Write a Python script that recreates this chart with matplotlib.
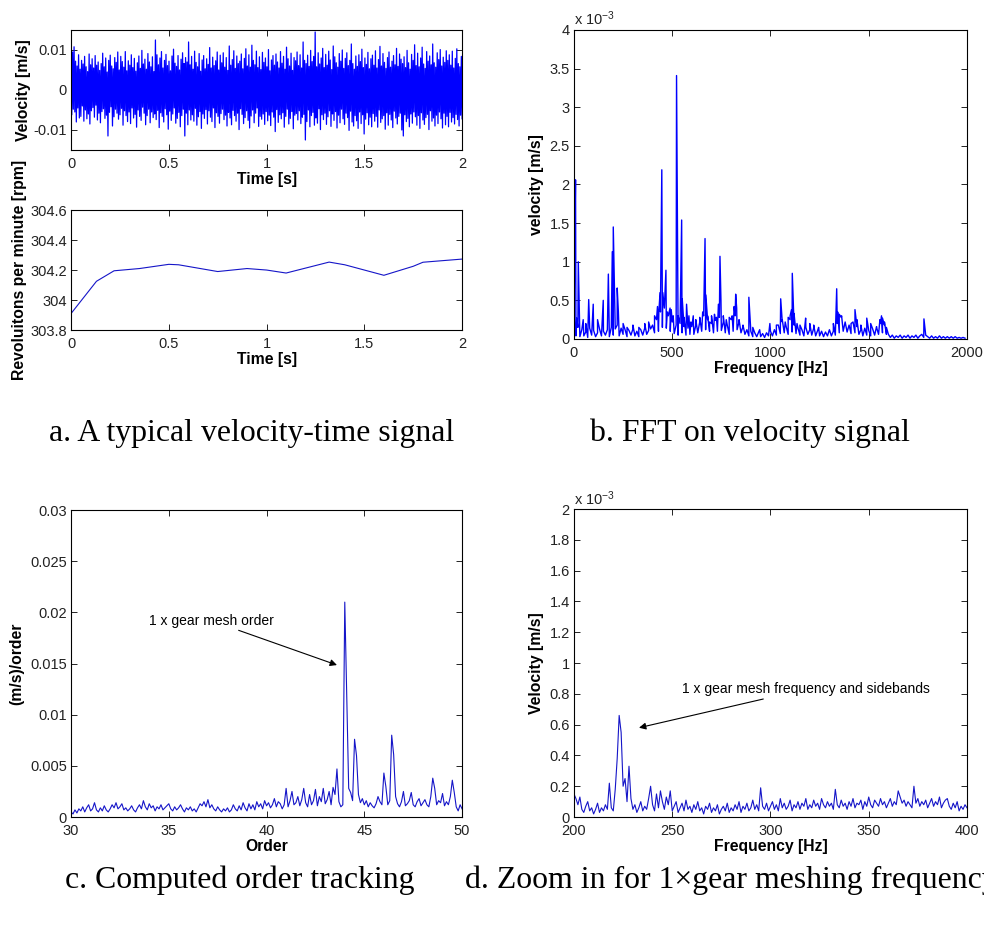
import numpy as np
import matplotlib
matplotlib.use("Agg")
import matplotlib.pyplot as plt

plt.rcParams['font.family'] = ['Liberation Sans', 'DejaVu Sans']
plt.rcParams['mathtext.default'] = 'regular'

#####################
# datos (leidos)    #
#####################

# velocidad vs tiempo, en unidades de 1e-4 m/s
vel_e4 = [80, -62, 95, -48, 108, -55, 72, -80, 60, -45, 88, -70, 52, -66, 74, -40, 65, -78, 84, -50,
          58, -72, 46, -60, 90, -85, 63, -52, 78, -44, 55, -68, 86, -38, 62, -75, 70, -58, 49, -82,
          66, -54, 92, -47, 58, -71, 80, -63, 45, -115, 74, -56, 87, -42, 60, -90, 53, -67, 81, -48,
          69, -58, 95, -73, 50, -62, 84, -46, 71, -88, 57, -52, 96, -64, 48, -79, 73, -55, 62, -84,
          88, -45, 56, -70, 79, -61, 47, -93, 68, -50, 85, -66, 54, -76, 99, -43, 65, -58, 77, -87,
          52, -64, 91, -48, 70, -82, 58, -55, 83, -69, 46, -60, 125, -74, 88, -51, 63, -94, 80, -57,
          96, -66, 55, -80, 74, -47, 89, -62, 61, -98, 72, -53, 48, -76, 85, -60, 102, -45, 67, -83,
          59, -71, 86, -56, 50, -92, 77, -64, 93, -48, 66, -115, 81, -58, 70, -87, 120, -50, 63, -75,
          84, -62, 52, -78, 97, -46, 69, -88, 58, -67, 91, -54, 47, -96, 75, -60, 86, -71, 53, -49,
          78, -85, 64, -52, 106, -68, 55, -79, 82, -45, 61, -94, 73, -57, 95, -66, 50, -83, 87, -59,
          68, -48, 93, -74, 57, -63, 81, -90, 49, -56, 110, -70, 62, -87, 76, -51, 98, -64, 54, -78,
          85, -58, 66, -99, 72, -47, 90, -61, 53, -84, 79, -69, 103, -52, 60, -76, 88, -95, 57, -65,
          112, -50, 74, -82, 63, -58, 97, -45, 56, -91, 83, -66, 51, -73, 94, -60, 69, -86, 80, -54,
          58, -77, 101, -63, 48, -89, 75, -55, 86, -68, 62, -104, 90, -49, 70, -81, 55, -62, 96, -72,
          67, -57, 84, -93, 52, -66, 107, -48, 78, -85, 60, -71, 92, -54, 49, -97, 81, -63, 73, -59,
          95, -75, 61, -52, 88, -84, 55, -68, 120, -61, 74, -125, 66, -79, 87, -50, 59, -92, 99, -64,
          71, -56, 84, -88, 145, -70, 58, -83, 93, -47, 65, -99, 80, -62, 104, -74, 56, -58, 89, -86,
          62, -67, 97, -52, 75, -91, 51, -60, 110, -76, 83, -54, 68, -95, 57, -63, 91, -82, 72, -48,
          100, -72, 54, -86, 79, -58, 93, -69, 61, -101, 74, -53, 115, -80, 66, -90, 52, -64, 85, -77,
          59, -96, 88, -55, 71, -84, 102, -62, 56, -110, 80, -73, 64, -57, 94, -87, 53, -68, 78, -92,
          87, -59, 62, -78, 98, -66, 55, -93, 76, -50, 109, -81, 60, -72, 91, -64, 69, -98, 54, -57,
          81, -88, 95, -61, 57, -75, 72, -94, 86, -53, 63, -70, 104, -85, 59, -66, 90, -58, 77, -100,
          66, -115, 83, -62, 56, -79, 99, -71, 68, -92, 52, -60, 89, -83, 74, -55, 113, -67, 61, -88,
          92, -64, 58, -96, 80, -57, 107, -75, 65, -86, 54, -69, 96, -61, 72, -99, 85, -52, 63, -78,
          115, -70, 68, -90, 57, -63, 93, -84, 76, -55, 101, -72, 60, -95, 82, -58, 69, -87, 98, -66,
          74, -92, 88, -56, 62, -80, 97, -69, 55, -85, 79, -61, 103, -74, 66, -90, 58, -63, 84, -72]

# rpm vs tiempo
rpm_t = [0, 0.13, 0.22, 0.35, 0.5, 0.55, 0.75, 0.9, 1.0, 1.1, 1.32, 1.4, 1.6, 1.75, 1.8, 2.0]
rpm_v = [303.91, 304.125, 304.195, 304.21, 304.238, 304.235, 304.19, 304.21, 304.2, 304.18,
         304.253, 304.235, 304.165, 304.225, 304.252, 304.273]

# FFT: piso de ruido cada 10 Hz (1e-3 m/s)
fft_floor = [.10, .04, .15, .03, .12, .04, .09, .02, .14, .05, .11, .03, .08, .13, .04, .10, .05, .12, .03, .15,
             .05, .13, .18, .04, .14, .06, .12, .03, .11, .05, .13, .04, .10, .03, .12, .05, .14, .06, .11, .13,
             .18, .08, .25, .10, .35, .15, .40, .14, .30, .10, .22, .07, .18, .05, .20, .08, .16, .05, .14, .06,
             .16, .06, .18, .08, .22, .10, .30, .12, .25, .10, .20, .08, .24, .10, .28, .11, .22, .08, .18, .06,
             .25, .10, .30, .12, .22, .08, .16, .06, .12, .04, .10, .03, .08, .03, .09, .03, .07, .02, .08, .04,
             .10, .04, .12, .05, .18, .07, .22, .08, .16, .06, .25, .09, .18, .07, .14, .05, .12, .04, .15, .06,
             .12, .05, .14, .04, .11, .04, .10, .03, .09, .04, .12, .04, .10, .05, .20, .08, .28, .10, .22, .09,
             .18, .07, .22, .08, .16, .06, .12, .04, .14, .05, .11, .04, .13, .05, .16, .06, .20, .08, .18, .06,
             .06, .02, .05, .01, .04, .02, .05, .01, .04, .02, .05, .01, .04, .02, .05, .01, .04, .06, .02, .05,
             .03, .01, .04, .01, .03, .01, .04, .01, .03, .01, .03, .01, .03, .01, .03, .01, .02, .01, .02, .01]
fft_floor_f = np.arange(len(fft_floor)) * 10.0

# FFT: picos (Hz, 1e-3 m/s)
peak_f = [3, 8, 14, 22, 47, 60, 75, 98, 120, 149, 175, 195, 200, 220, 226, 250, 270, 300, 330, 360, 380,
          410, 425, 432, 438, 443, 447, 452, 458, 468, 475, 489, 495, 505,
          522, 530, 548, 551, 560, 573, 585, 595, 607, 620, 640, 655, 667, 671, 680, 690, 700,
          715, 725, 735, 743, 748, 760, 775, 790, 805, 815, 823, 828, 840, 860, 890, 910, 945,
          997, 1030, 1052, 1060, 1075, 1090, 1100, 1107, 1111, 1120, 1135, 1150, 1179, 1200, 1220, 1245,
          1320, 1337, 1342, 1350, 1362, 1380, 1410, 1430, 1440, 1460, 1490, 1510, 1540,
          1557, 1565, 1570, 1580, 1590, 1781]
peak_a = [1.0, 2.06, 0.27, 1.0, 0.25, 0.2, 0.51, 0.45, 0.25, 0.5, 0.84, 1.13, 1.45, 0.66, 0.35, 0.2, 0.15, 0.18, 0.15, 0.2, 0.22,
          0.3, 0.42, 0.35, 0.6, 1.15, 2.19, 0.6, 0.45, 0.89, 0.35, 0.4, 0.38, 0.3,
          3.41, 0.3, 1.54, 0.52, 0.28, 0.45, 0.3, 0.22, 0.3, 0.25, 0.28, 0.35, 1.3, 0.57, 0.3, 0.22, 0.3,
          0.32, 0.28, 0.45, 1.07, 0.5, 0.3, 0.25, 0.28, 0.3, 0.42, 0.58, 0.4, 0.25, 0.18, 0.54, 0.15, 0.12,
          0.2, 0.18, 0.52, 0.25, 0.22, 0.28, 0.3, 0.38, 0.85, 0.33, 0.2, 0.18, 0.27, 0.2, 0.18, 0.15,
          0.2, 0.65, 0.35, 0.32, 0.3, 0.22, 0.2, 0.38, 0.25, 0.18, 0.27, 0.2, 0.15,
          0.25, 0.3, 0.27, 0.22, 0.15, 0.26]

# order tracking, orden 30 a 50 cada 0.1 (1e-3)
order_vals = [.5, .3, .7, .4, .8, .6, 1.0, .5, .9, 1.2, .6, .8, 1.4, .7, .5, .9, .6, 1.1, .7, .5,
              .8, 1.2, .9, 1.4, .8, 1.0, 1.3, .7, .9, .6, .8, 1.1, .7, .5, .9, 1.2, .8, 1.6, 1.0, .7,
              1.3, .9, 1.1, .6, 1.0, .8, 1.2, .7, .9, 1.1, 1.3, .8, .6, 1.0, .7, .9, 1.2, .8, .5, .9,
              .7, 1.0, .6, .8, .5, .9, 1.3, 1.1, 1.5, 1.0, 1.7, .9, 1.2, .8, .6, 1.0, .7, .5, .8, .6,
              .9, .5, .7, 1.2, .8, .6, 1.1, .7, 1.4, .9, .6, 1.3, .8, 1.2, .7, 1.5, 1.0, 1.3, .8, 1.6,
              1.1, 1.4, .9, 1.2, 1.8, 1.0, 1.5, 1.3, .8, 1.2, 2.8, 1.0, 1.6, 2.5, 1.2, 1.4, 2.0, 1.1, 1.7, 2.8,
              1.4, 1.0, 2.2, 1.2, 1.6, 2.7, 1.1, 2.0, 1.5, 2.8, 1.3, 1.7, 2.5, 1.2, 2.9, 2.2, 4.7, 1.5, 1.0, 1.2,
              21.0, 11.8, 2.8, 2.4, 1.6, 7.6, 6.0, 2.2, 1.4, 1.8, 1.2, 1.6, 1.0, 1.4, 1.1, 0.9, 1.3, 2.0, 1.5, 1.2,
              4.3, 3.0, 1.2, 1.6, 8.0, 6.1, 2.0, 1.3, 1.0, 1.5, 2.5, 1.1, 1.3, 1.6, 2.4, 1.2, 1.0, 1.5, 1.8, 1.1,
              1.4, 1.7, 1.2, 1.0, 2.0, 3.8, 2.8, 1.2, 1.6, 1.4, 2.3, 1.1, 1.5, 1.2, 2.0, 3.6, 2.4, 1.0, 0.6, 1.2,
              0.8]

# zoom 200-400 Hz cada 1 Hz (1e-3 m/s)
zoom_vals = [.15, .12, .08, .13, .05, .03, .07, .10, .04, .06, .02, .05, .09, .03, .06, .04, .08, .05, .22, .06,
             .04, .18, .38, .66, .55, .20, .25, .10, .33, .12, .05, .08, .03, .06, .10, .04, .07, .05, .12, .20,
             .08, .04, .15, .06, .17, .10, .05, .13, .08, .17, .04, .07, .10, .03, .06, .09, .04, .11, .05, .07,
             .03, .08, .05, .10, .04, .06, .02, .07, .05, .09, .03, .06, .04, .08, .02, .05, .07, .04, .09, .03,
             .06, .04, .08, .05, .10, .03, .07, .05, .09, .04, .06, .11, .05, .08, .04, .19, .07, .05, .09, .04,
             .07, .10, .05, .08, .04, .12, .06, .09, .05, .07, .11, .04, .08, .06, .10, .05, .09, .07, .12, .05,
             .08, .06, .11, .07, .09, .05, .12, .08, .06, .10, .07, .09, .05, .18, .08, .06, .11, .07, .09, .05,
             .10, .07, .12, .06, .09, .08, .11, .05, .10, .07, .13, .08, .06, .11, .09, .07, .12, .08, .10, .06,
             .09, .12, .07, .10, .08, .17, .13, .09, .11, .07, .10, .08, .06, .20, .09, .12, .07, .10, .08, .11,
             .06, .09, .12, .07, .10, .08, .13, .06, .09, .11, .12, .07, .05, .09, .06, .10, .04, .07, .05, .08, .06]

vel = np.array(vel_e4) * 1e-4
t_vel = np.linspace(0, 2, len(vel))

f_all = np.concatenate([fft_floor_f, np.array(peak_f, dtype=float)])
a_all = np.concatenate([np.array(fft_floor), np.array(peak_a)])
idx = np.argsort(f_all, kind='stable')
f_all = f_all[idx]
a_all = a_all[idx]

order_x = 30 + 0.1 * np.arange(len(order_vals))
order_y = np.array(order_vals) * 1e-3
zoom_f = 200 + np.arange(len(zoom_vals))

#############
# figura    #
#############

fig = plt.figure(figsize=(9.84, 9.31), dpi=100)

tick_fs = 10.5
lab_fs = 11.3
ann_fs = 10
line_c = '#1515c8'


def estilo(ax):
    ax.tick_params(direction='in', top=True, right=True, length=4, width=0.6,
                   labelsize=tick_fs, labelcolor='#222222', pad=3)
    ax.tick_params(axis='x', pad=5)
    for s in ax.spines.values():
        s.set_linewidth(0.8)


# --- velocidad ---
ax1 = fig.add_axes([0.0722, 0.8389, 0.3974, 0.1289])
ax1.plot(t_vel, vel, color='b', linewidth=0.9)
ax1.set_xlim(0, 2)
ax1.set_ylim(-0.015, 0.015)
ax1.set_xticks([0, 0.5, 1, 1.5, 2])
ax1.set_xticklabels(['0', '0.5', '1', '1.5', '2'])
ax1.set_yticks([-0.01, 0, 0.01])
ax1.set_yticklabels(['-0.01', '0', '0.01'])
ax1.set_xlabel('Time [s]', fontsize=lab_fs, fontweight='bold', labelpad=1)
ax1.set_ylabel('Velocity [m/s]', fontsize=lab_fs, fontweight='bold', labelpad=2)
estilo(ax1)

# --- rpm ---
ax2 = fig.add_axes([0.0722, 0.6455, 0.3974, 0.1289])
ax2.plot(rpm_t, rpm_v, color=line_c, linewidth=0.8)
ax2.set_xlim(0, 2)
ax2.set_ylim(303.8, 304.6)
ax2.set_xticks([0, 0.5, 1, 1.5, 2])
ax2.set_xticklabels(['0', '0.5', '1', '1.5', '2'])
ax2.set_yticks([303.8, 304, 304.2, 304.4, 304.6])
ax2.set_yticklabels(['303.8', '304', '304.2', '304.4', '304.6'])
ax2.set_xlabel('Time [s]', fontsize=lab_fs, fontweight='bold', labelpad=1)
ax2.set_ylabel('Revoluitons per minute [rpm]', fontsize=lab_fs, fontweight='bold', labelpad=2)
estilo(ax2)

# --- FFT ---
ax3 = fig.add_axes([0.5833, 0.6359, 0.3994, 0.3319])
ax3.plot(f_all, a_all, color='b', linewidth=1.0)
ax3.set_xlim(0, 2000)
ax3.set_ylim(0, 4)
ax3.set_xticks([0, 500, 1000, 1500, 2000])
ax3.set_yticks([0, 0.5, 1, 1.5, 2, 2.5, 3, 3.5, 4])
ax3.set_yticklabels(['0', '0.5', '1', '1.5', '2', '2.5', '3', '3.5', '4'])
ax3.set_xlabel('Frequency [Hz]', fontsize=lab_fs, fontweight='bold', labelpad=1)
ax3.set_ylabel('velocity [m/s]', fontsize=lab_fs, fontweight='bold', labelpad=4)
ax3.text(0, 1.005, r'x 10$^{-3}$', transform=ax3.transAxes, fontsize=tick_fs,
         color='#222222', va='bottom', ha='left')
estilo(ax3)

# --- order tracking ---
ax4 = fig.add_axes([0.0722, 0.1224, 0.3974, 0.3298])
ax4.plot(order_x, order_y, color=line_c, linewidth=0.8)
ax4.set_xlim(30, 50)
ax4.set_ylim(0, 0.03)
ax4.set_xticks([30, 35, 40, 45, 50])
ax4.set_yticks([0, 0.005, 0.01, 0.015, 0.02, 0.025, 0.03])
ax4.set_yticklabels(['0', '0.005', '0.01', '0.015', '0.02', '0.025', '0.03'])
ax4.set_xlabel('Order', fontsize=lab_fs, fontweight='bold', labelpad=1)
ax4.set_ylabel('(m/s)/order', fontsize=lab_fs, fontweight='bold', labelpad=4)
ax4.annotate('1 x gear mesh order', xy=(43.6, 0.01485), xytext=(40.35, 0.0192),
             fontsize=ann_fs, ha='right', va='center',
             arrowprops=dict(arrowstyle='-|>', color='black', lw=0.8,
                             mutation_scale=10, shrinkA=0, shrinkB=0))
estilo(ax4)

# --- zoom ---
ax5 = fig.add_axes([0.5833, 0.1224, 0.3994, 0.3308])
ax5.plot(zoom_f, zoom_vals, color=line_c, linewidth=0.8)
ax5.set_xlim(200, 400)
ax5.set_ylim(0, 2)
ax5.set_xticks([200, 250, 300, 350, 400])
ax5.set_yticks([0, 0.2, 0.4, 0.6, 0.8, 1, 1.2, 1.4, 1.6, 1.8, 2])
ax5.set_yticklabels(['0', '0.2', '0.4', '0.6', '0.8', '1', '1.2', '1.4', '1.6', '1.8', '2'])
ax5.set_xlabel('Frequency [Hz]', fontsize=lab_fs, fontweight='bold', labelpad=1)
ax5.set_ylabel('Velocity [m/s]', fontsize=lab_fs, fontweight='bold', labelpad=4)
ax5.text(0, 1.005, r'x 10$^{-3}$', transform=ax5.transAxes, fontsize=tick_fs,
         color='#222222', va='bottom', ha='left')
ax5.annotate('1 x gear mesh frequency and sidebands', xy=(233.1, 0.58), xytext=(254.8, 0.83),
             fontsize=ann_fs, ha='left', va='center',
             arrowprops=dict(arrowstyle='-|>', color='black', lw=0.8,
                             mutation_scale=10, shrinkA=0, shrinkB=0))
estilo(ax5)

# --- leyendas de cada figura ---
cap_kw = dict(fontsize=22.9, family='Liberation Serif', va='center', ha='left')
fig.text(49 / 984, 1 - 433 / 931, 'a. A typical velocity-time signal', **cap_kw)
fig.text(590 / 984, 1 - 433 / 931, 'b. FFT on velocity signal', **cap_kw)
fig.text(65 / 984, 1 - 880 / 931, 'c. Computed order tracking', **cap_kw)
fig.text(465 / 984, 1 - 880 / 931, 'd. Zoom in for 1\u00d7gear meshing frequency', **cap_kw)

fig.savefig('out.png', dpi=100)
